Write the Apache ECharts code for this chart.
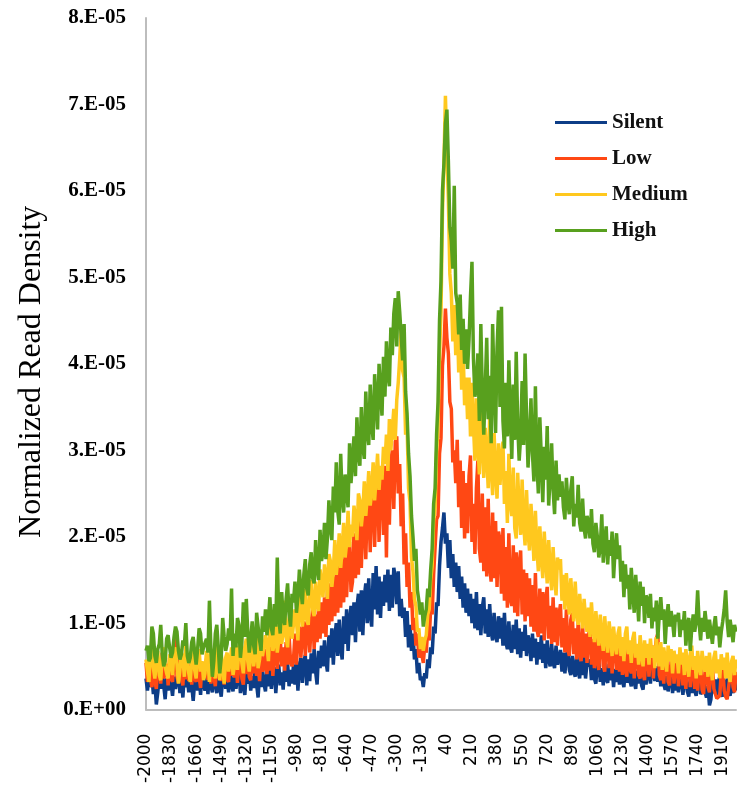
<!DOCTYPE html>
<html><head><meta charset="utf-8">
<script src="https://cdn.jsdelivr.net/npm/echarts@6/dist/echarts.min.js"></script>
<style>html,body{margin:0;padding:0;background:#fff}#chart{width:737px;height:786px}</style>
</head><body><div id="chart"></div>
<script>
// Position relative to TSS (bp), one category every 10 bp
const positions = [];
for (let p = -2000; p <= 2000; p += 10) positions.push(String(p));
const tickLabels = ['-2000','-1830','-1660','-1490','-1320','-1150','-980','-810','-640','-470','-300','-130',
  '40','210','380','550','720','890','1060','1230','1400','1570','1740','1910'];
const seriesNames = ['Silent','Low','Medium','High'];
// Values in units of 1E-06
const silent = [
3.6,2.2,4.0,2.6,3.8,1.8,3.2,0.6,2.0,3.9,2.4,4.2,2.8,1.2,3.6,2.2,4.1,3.0,1.6,3.8,
2.4,3.4,4.4,1.9,3.6,1.4,4.0,2.6,3.6,2.0,4.3,2.8,1.0,3.2,4.0,2.2,3.8,1.7,4.2,2.9,
2.2,3.9,1.8,4.2,2.7,2.0,4.5,3.0,1.9,4.0,2.6,1.5,3.8,4.4,2.4,3.6,2.0,4.1,2.8,2.1,
4.3,2.4,3.8,4.7,1.9,4.0,2.7,1.7,4.2,3.0,4.8,2.2,3.9,2.5,4.6,2.9,1.4,4.1,2.6,4.6,
3.0,2.1,4.5,2.7,5.0,2.4,4.2,4.9,1.9,4.4,5.2,2.8,4.3,2.3,5.0,3.2,5.4,2.7,4.6,3.0,
5.2,2.9,5.6,2.2,4.9,6.0,3.1,5.5,6.3,2.8,5.8,3.3,6.5,4.2,7.0,4.4,2.9,6.8,4.8,7.4,
5.0,8.0,5.6,4.4,8.6,6.0,9.4,5.2,8.4,10.0,6.2,10.4,7.2,5.8,10.8,7.6,11.6,6.8,10.2,12.0,
8.6,12.4,7.8,11.8,13.4,9.0,13.8,8.6,13.0,14.6,10.0,15.2,11.0,9.6,15.8,11.6,16.6,11.0,15.4,10.6,
14.8,12.0,15.6,12.4,16.2,11.4,15.6,11.8,16.4,15.2,12.2,16.0,10.8,12.8,10.6,11.8,8.4,11.4,7.2,9.8,
6.8,8.8,5.8,7.0,4.2,5.4,3.4,3.8,2.6,4.2,3.6,5.8,4.8,7.2,6.4,9.6,8.8,12.4,12.0,16.6,
19.4,21.0,22.8,19.2,20.4,16.4,19.6,15.2,18.0,14.2,17.0,13.6,16.6,12.8,15.4,11.8,14.6,11.2,14.0,10.8,
13.4,10.0,12.8,9.4,13.6,9.2,12.2,8.6,11.8,13.0,8.8,11.6,8.4,12.2,9.0,8.0,11.2,8.6,7.8,10.8,
8.2,10.6,7.4,11.2,7.8,7.0,10.2,7.2,6.6,9.8,7.0,10.4,6.4,9.4,6.0,9.0,6.8,9.8,6.2,8.6,
7.8,5.6,8.8,6.0,8.2,5.2,7.8,5.8,8.6,5.4,7.6,4.8,8.0,5.8,5.0,7.6,5.4,4.8,7.4,5.2,
6.0,6.9,4.4,6.6,4.2,6.2,7.0,4.6,4.0,6.2,4.5,3.8,6.4,4.4,3.6,6.0,4.0,6.4,3.6,5.4,
5.0,5.8,3.4,5.4,3.6,3.0,5.2,5.6,3.2,4.8,2.8,5.4,3.5,3.1,5.3,3.4,5.0,2.6,4.7,3.2,
4.6,2.9,5.1,3.3,2.6,4.8,3.1,5.3,3.4,2.7,4.9,3.2,2.4,4.5,3.0,5.0,2.8,2.3,4.4,2.9,
4.3,4.8,3.0,5.2,4.6,3.3,5.0,3.2,4.9,2.7,4.5,3.0,2.3,3.9,2.1,3.6,4.1,1.9,3.5,2.2,
3.7,2.0,3.4,4.0,1.7,3.3,3.8,2.1,1.5,3.5,1.9,3.9,2.2,1.6,3.4,3.7,1.8,2.1,3.6,2.0,
1.4,2.7,0.5,1.2,3.3,1.9,3.5,1.6,3.2,3.8,2.0,1.5,3.4,1.8,3.6,2.1,1.6,3.3,1.9,3.5,2.2
];
const low = [
5.4,3.2,5.8,3.6,2.6,5.2,3.3,2.4,5.0,5.6,3.0,6.6,3.6,3.4,5.3,2.8,6.0,3.6,3.2,5.5,
9.0,3.8,3.1,5.8,4.0,2.8,5.6,3.5,6.2,3.3,5.2,2.9,5.7,3.7,3.2,6.0,3.9,2.5,5.5,3.6,
4.0,5.9,3.4,5.4,3.0,5.7,3.8,2.7,5.6,3.6,6.1,3.3,5.3,2.9,5.8,3.5,3.2,5.5,3.9,6.0,
3.7,5.7,3.1,5.4,6.2,3.6,2.9,5.9,4.1,6.5,3.8,3.4,6.1,4.2,6.8,3.9,5.8,3.3,6.3,4.4,
4.8,7.0,4.1,6.6,4.5,7.3,3.9,6.5,7.6,4.7,6.8,8.4,5.0,7.2,4.5,7.8,5.2,8.6,5.6,5.0,
5.8,8.8,5.2,8.2,9.6,6.0,8.8,10.2,6.2,9.4,10.8,6.6,10.0,11.6,7.0,11.0,7.8,12.0,8.2,12.4,
8.8,13.0,8.4,13.8,9.8,14.6,10.2,15.4,10.8,16.0,11.2,16.8,11.8,17.4,12.4,18.2,13.0,17.8,19.4,13.6,
14.8,20.4,15.2,21.8,15.6,22.6,16.4,22.0,23.8,17.4,23.4,24.6,18.2,24.4,26.0,18.8,25.4,27.0,19.4,26.4,
27.4,20.2,28.2,17.6,28.8,21.4,28.6,30.0,23.2,31.0,31.6,25.0,28.4,21.2,25.0,16.8,20.4,14.2,17.0,11.8,
13.6,9.2,10.6,7.4,8.8,6.0,7.2,6.4,5.4,7.4,6.6,9.2,8.0,11.8,11.0,15.6,15.4,22.0,22.4,29.6,
31.4,39.8,42.0,46.4,43.0,41.2,35.6,34.8,28.6,30.0,26.2,31.2,23.4,28.8,21.0,27.6,19.8,26.2,20.4,27.0,
29.4,19.4,23.8,18.0,25.6,28.8,18.6,17.0,25.0,16.0,23.4,15.4,24.4,16.6,14.8,22.8,15.2,21.8,14.2,20.6,
19.6,13.4,21.0,12.6,18.8,11.8,20.4,12.8,12.0,19.0,11.2,18.2,10.8,16.8,18.4,11.0,16.2,10.2,15.8,10.8,
15.2,9.6,14.4,9.0,15.8,9.4,8.4,14.0,8.8,13.6,8.0,12.6,14.2,8.2,12.0,7.6,13.0,7.8,11.8,7.4,
11.0,12.2,7.2,10.6,6.6,11.6,7.0,6.2,10.4,11.2,6.4,9.4,5.8,10.2,6.8,5.6,9.8,6.0,8.8,5.4,
8.6,9.4,5.2,8.2,4.8,8.8,5.6,4.6,8.0,9.0,5.0,4.4,7.6,8.4,4.8,7.8,4.2,7.2,8.6,4.6,
7.2,4.4,8.0,4.0,7.4,4.6,3.8,7.6,4.8,4.2,7.8,3.6,6.6,7.2,4.0,3.6,6.8,4.2,3.4,6.4,
7.0,3.8,6.4,7.4,3.6,6.6,8.2,8.8,4.0,3.4,6.2,3.0,5.8,6.6,3.2,2.8,5.6,6.2,3.0,5.2,
5.8,2.7,5.0,6.0,2.8,5.2,2.4,5.6,6.2,2.6,4.8,5.8,2.4,5.0,2.2,4.6,5.4,2.3,1.8,4.4,
4.8,2.6,2.0,4.6,5.4,2.4,1.8,1.3,1.1,1.6,4.4,5.0,2.2,1.5,1.2,1.4,4.0,4.8,2.6,2.0,4.4
];
const medium = [
5.8,4.4,3.2,6.6,7.0,4.8,3.6,5.4,6.8,4.0,3.4,6.2,7.2,5.0,4.2,3.6,6.4,5.6,4.0,6.8,
7.2,5.2,3.0,4.6,6.6,6.0,3.8,7.4,5.4,4.2,3.2,5.8,6.8,4.6,3.6,6.2,7.0,4.4,5.6,3.4,
4.2,6.8,5.8,3.2,7.0,6.2,4.6,3.6,7.6,5.0,3.4,6.4,5.2,3.0,6.0,6.6,4.4,5.4,7.2,4.0,
5.2,7.4,4.6,6.8,8.0,5.4,4.2,7.2,8.2,5.6,4.4,6.6,7.8,5.0,6.4,8.4,4.8,5.8,7.6,6.2,
6.0,8.6,7.4,5.6,9.6,10.2,6.8,7.6,9.8,6.6,8.0,11.4,7.6,9.0,12.6,8.4,7.2,10.4,11.6,8.2,
8.4,11.6,10.2,8.0,12.8,13.4,9.6,11.0,14.0,10.4,9.8,13.6,15.0,11.6,10.8,14.8,12.2,11.4,16.2,14.6,
13.0,16.8,15.4,12.8,18.0,17.2,14.2,16.0,19.6,15.6,17.4,20.4,16.4,18.6,21.6,17.6,19.2,23.0,18.8,21.4,
20.0,23.6,22.0,19.6,25.0,24.2,21.2,23.0,26.4,22.4,24.6,27.6,23.6,25.2,28.6,24.2,26.8,29.6,25.4,28.2,
26.6,30.4,28.4,31.8,27.6,33.6,30.0,32.4,34.8,31.2,35.8,37.8,40.6,44.0,39.2,38.4,31.8,33.0,25.6,24.0,
17.6,16.0,12.8,12.0,9.0,9.4,7.0,8.4,6.8,8.0,8.6,11.0,11.6,15.0,16.6,21.8,23.4,29.6,33.0,41.0,
46.0,57.6,63.2,71.0,64.6,59.0,50.4,48.2,42.6,46.8,41.0,45.6,39.0,43.8,37.0,41.6,35.2,38.4,33.6,38.4,
31.6,37.8,33.0,28.8,36.0,30.8,27.2,34.4,31.0,26.8,32.6,29.4,25.6,33.8,28.0,24.8,32.0,27.6,24.4,30.8,
26.0,29.0,31.0,23.8,27.6,21.6,29.6,24.0,22.4,28.0,21.0,19.8,27.4,23.0,20.2,26.6,21.6,19.0,25.4,20.6,
18.4,23.8,20.8,17.2,23.0,18.8,16.0,21.2,17.8,15.2,20.6,17.4,14.6,19.6,16.2,13.8,18.8,15.4,13.2,17.6,
16.2,17.4,12.6,15.6,11.6,15.8,13.2,11.0,15.2,12.4,10.2,14.8,11.4,9.8,13.4,11.0,9.4,12.8,10.6,9.0,
11.8,8.4,12.4,9.6,7.8,11.4,9.2,7.4,11.0,8.6,6.8,10.8,8.2,6.6,10.2,8.4,6.2,9.6,7.6,6.4,
8.8,9.6,6.2,8.4,5.6,8.8,9.6,6.4,8.0,5.4,8.2,9.0,6.0,7.6,5.2,8.6,6.4,5.0,8.0,6.0,
7.6,5.2,8.2,6.0,7.4,4.8,8.4,6.2,5.0,7.8,4.6,7.2,5.8,4.4,7.4,5.6,7.0,4.2,6.8,5.4,
6.4,4.2,7.2,5.2,6.6,4.0,7.0,5.4,3.8,6.4,7.4,4.6,6.2,3.6,6.8,5.0,4.0,6.8,5.2,4.4,
6.2,3.8,6.6,4.8,3.4,6.0,6.8,4.2,5.8,3.6,6.4,4.6,6.0,3.6,6.6,4.2,3.2,5.6,6.2,4.0,5.8
];
const high = [
6.8,7.4,5.6,6.0,9.6,8.8,6.2,5.4,7.0,7.6,9.8,6.4,5.0,5.6,8.2,8.6,7.2,6.0,6.6,8.4,
9.6,9.0,6.8,5.8,6.4,8.0,7.4,10.0,6.2,5.4,6.0,7.8,8.4,6.6,5.2,7.0,9.4,8.8,6.4,7.2,
7.4,8.2,6.6,12.6,7.0,3.8,5.6,8.8,9.8,7.2,4.2,6.0,10.6,8.4,6.8,7.6,9.4,8.0,14.0,6.2,
8.8,7.2,10.6,9.8,6.0,7.8,12.4,8.4,12.8,9.0,6.6,8.2,10.2,7.4,6.4,11.2,9.6,8.0,6.8,10.8,
9.0,11.6,8.6,10.4,13.0,9.4,8.6,12.2,9.6,17.6,10.8,8.8,13.6,10.6,9.8,12.8,14.6,11.0,9.6,13.4,
12.4,14.8,11.2,13.0,16.2,13.8,12.2,15.6,17.4,14.0,13.2,16.8,18.2,15.2,14.6,19.6,16.4,15.0,20.8,17.2,
18.2,21.6,17.4,19.8,24.2,21.0,19.6,25.8,22.8,28.6,23.0,21.4,29.6,24.6,22.8,27.2,25.0,23.4,30.8,26.2,
26.4,31.6,27.0,33.8,29.6,28.2,35.0,30.4,29.0,36.8,32.2,30.6,37.6,33.0,31.2,38.8,35.8,32.4,40.0,36.6,
34.0,40.8,36.2,42.6,38.8,37.4,44.2,41.0,45.8,47.6,42.0,48.4,46.0,43.2,40.4,44.6,36.8,34.2,29.6,27.0,
22.4,20.0,17.2,18.6,13.8,12.6,11.0,12.4,9.6,10.8,11.6,14.0,13.0,16.2,18.6,23.8,25.6,31.8,35.6,45.0,
49.6,60.0,63.2,67.8,69.4,63.4,55.8,54.2,51.0,60.6,48.2,47.0,43.4,48.0,41.6,45.2,40.0,44.0,39.4,42.8,
47.8,51.8,40.6,36.2,37.4,41.2,33.4,44.6,36.8,31.8,37.2,43.0,33.6,38.6,30.8,44.6,37.6,32.0,41.8,46.2,
35.0,46.6,33.4,30.2,37.8,31.6,40.4,34.2,29.0,37.6,31.2,41.4,33.0,28.8,31.6,38.0,30.6,41.2,33.8,28.0,
31.4,36.0,29.6,26.4,37.4,28.6,25.0,33.8,29.2,24.0,30.4,26.6,32.8,23.6,27.0,30.8,25.4,22.6,28.8,24.2,
27.2,24.6,26.4,23.4,22.0,26.8,24.0,22.6,25.4,27.0,21.2,23.8,22.2,26.0,21.6,20.6,24.4,21.0,19.8,22.4,
21.6,19.8,23.2,19.2,18.2,21.6,20.0,17.6,18.8,22.6,17.0,19.4,21.2,16.8,19.6,17.8,20.6,15.2,18.4,20.4,
17.4,19.0,14.8,17.2,13.0,16.8,14.0,15.6,11.6,16.4,13.6,11.2,15.6,13.0,10.2,14.8,12.0,14.2,10.0,13.2,
12.8,10.6,13.4,9.4,11.8,10.2,12.6,8.2,11.0,13.0,10.4,11.6,7.6,10.6,12.2,9.6,11.4,10.2,8.4,11.0,
10.2,11.2,8.4,10.4,9.2,11.4,7.4,9.8,10.6,6.8,9.4,11.0,9.0,10.2,13.8,10.0,8.0,10.6,9.0,11.4,
9.8,8.2,10.4,9.0,7.6,9.6,10.8,8.6,9.6,7.2,9.0,10.2,11.6,13.8,10.2,8.4,10.4,9.2,7.8,9.8,9.0
];
const UNIT = 1e-6;
const seriesData = [silent, low, medium, high];
const colors = ['#0d3d87', '#ff4814', '#ffc81e', '#58a01e'];

const chart = echarts.init(document.getElementById('chart'), null, {renderer: 'canvas'});
chart.setOption({
  animation: false,
  backgroundColor: '#ffffff',
  grid: {left: 146, top: 18, width: 590, height: 692, containLabel: false},
  legend: {
    orient: 'vertical', left: 555, top: 112, padding: 0, itemWidth: 52, itemHeight: 3, itemGap: 15,
    icon: 'rect', data: seriesNames,
    textStyle: {fontFamily: 'Liberation Serif', fontWeight: 'bold', fontSize: 21, lineHeight: 21, color: '#111'}
  },
  xAxis: {
    type: 'category', data: positions, boundaryGap: false,
    axisLine: {lineStyle: {color: '#bdbdbd', width: 2}},
    axisTick: {show: false},
    splitLine: {show: false},
    axisLabel: {
      rotate: 90, margin: 24,
      interval: (idx, val) => tickLabels.includes(val),
      fontFamily: 'DejaVu Sans', fontSize: 17, color: '#000'
    }
  },
  yAxis: {
    type: 'value', min: 0, max: 8e-5, interval: 1e-5,
    name: 'Normalized Read Density', nameLocation: 'middle', nameGap: 98,
    nameTextStyle: {fontFamily: 'Liberation Serif', fontSize: 32, color: '#000', padding: [0, 16, 0, 0]},
    axisLine: {show: true, lineStyle: {color: '#bdbdbd', width: 2}},
    axisTick: {show: false},
    splitLine: {show: false},
    axisLabel: {
      margin: 20, fontFamily: 'Liberation Serif', fontWeight: 'bold', fontSize: 21, color: '#000',
      formatter: v => v === 0 ? '0.E+00' : Math.round(v / 1e-5) + '.E-05'
    }
  },
  series: seriesNames.map((name, k) => ({
    name, type: 'line', symbol: 'none', showSymbol: false,
    data: seriesData[k].map(v => v * UNIT),
    lineStyle: {width: 3.5, color: colors[k]},
    itemStyle: {color: colors[k]}
  }))
});
</script>
</body></html>
